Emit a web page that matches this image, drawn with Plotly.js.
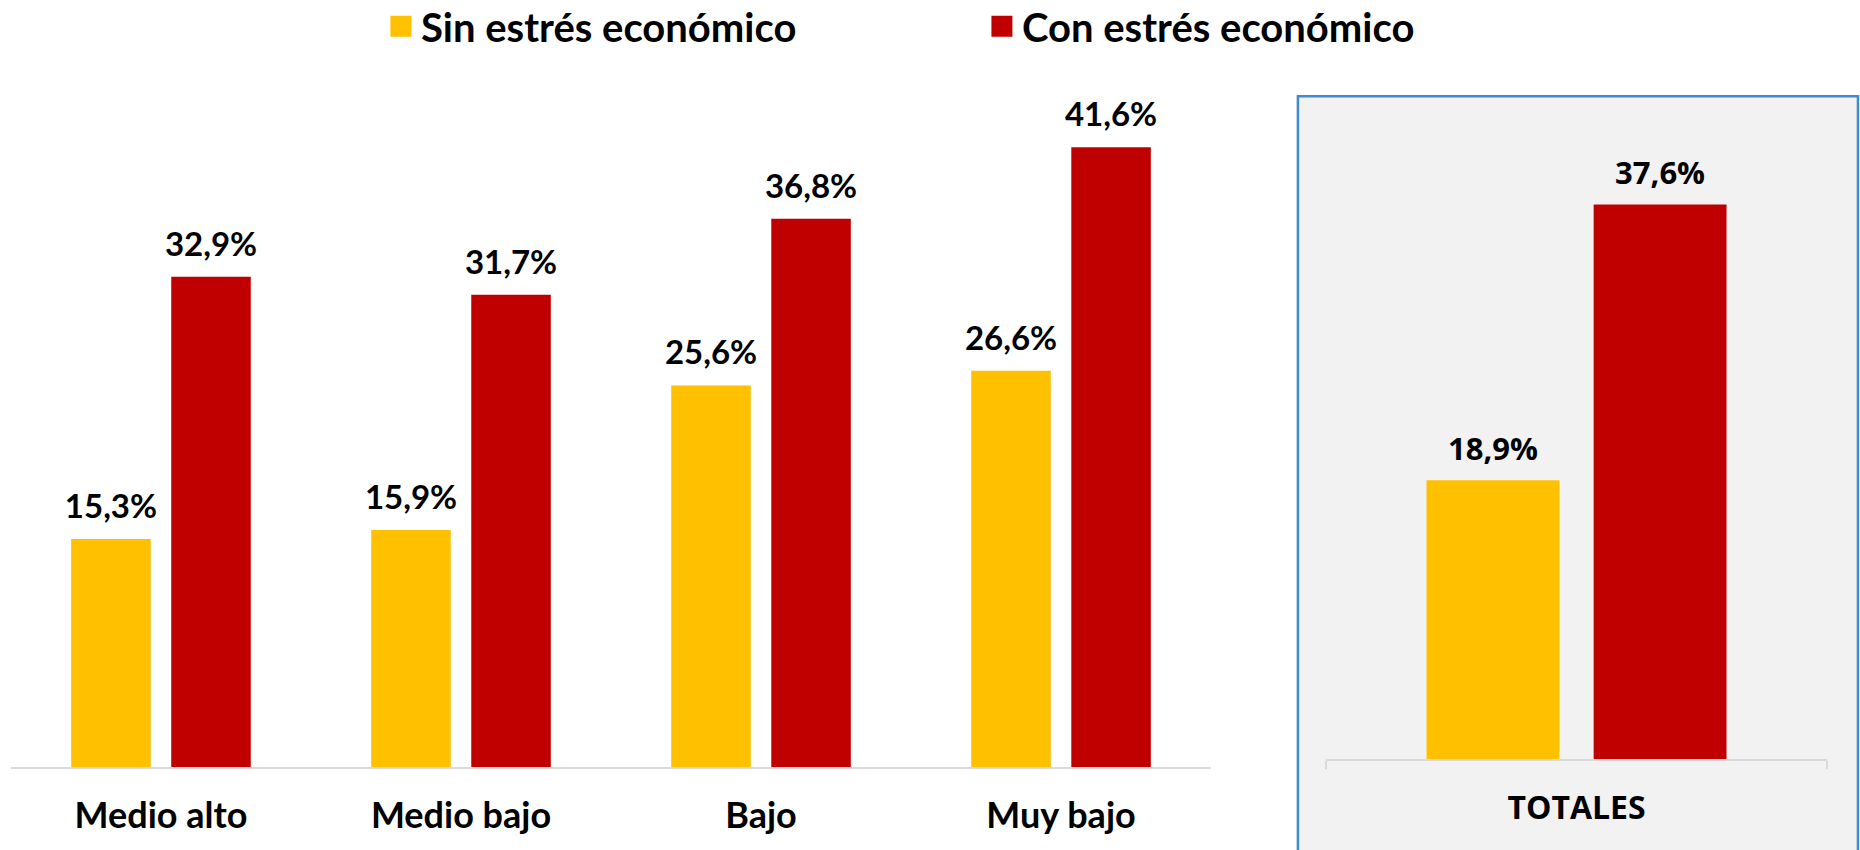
<!DOCTYPE html>
<html>
<head>
<meta charset="utf-8">
<script src="https://cdn.plot.ly/plotly-3.0.1.min.js"></script>
<style>html,body{margin:0;padding:0;background:#fff;}#chart{width:1860px;height:850px;}</style>
</head>
<body>
<div id="chart"></div>
<script>
// ---- data ----
var categories = ['Medio alto', 'Medio bajo', 'Bajo', 'Muy bajo'];
var sinEstres = [15.3, 15.9, 25.6, 26.6];
var conEstres = [32.9, 31.7, 36.8, 41.6];
var totalCategory = ['TOTALES'];
var totalSin = [18.9];
var totalCon = [37.6];
var seriesNames = ['Sin estrés económico', 'Con estrés económico'];

// ---- styles ----
var YELLOW = '#FFC000', RED = '#C00000';
var leftFont = 'Lato, "Liberation Sans", sans-serif';
var rightFont = '"Open Sans", "DejaVu Sans", sans-serif';

function barTrace(x, y, color, xa, ya) {
  return {type: 'bar', x: x, y: y, xaxis: xa, yaxis: ya, marker: {color: color},
    showlegend: false, hoverinfo: 'skip'};
}
function labelTrace(x, y, xa, ya, font, size) {
  return {type: 'scatter', mode: 'markers+text', x: x, y: y, xaxis: xa, yaxis: ya,
    marker: {size: 19, opacity: 0}, texttemplate: '%{y:.1f}%', textposition: 'top center',
    textfont: {family: font, size: size, color: '#000', weight: 'bold'},
    cliponaxis: false, showlegend: false, hoverinfo: 'skip'};
}
function legendTrace(name, color) {
  return {type: 'scatter', mode: 'markers', x: [null], y: [null], xaxis: 'x3', yaxis: 'y3',
    name: name, marker: {symbol: 'square', size: 16, color: color, line: {width: 5, color: color}},
    hoverinfo: 'skip'};
}

var data = [
  barTrace(categories, sinEstres, YELLOW, 'x', 'y'),
  barTrace(categories, conEstres, RED, 'x', 'y'),
  labelTrace(categories, sinEstres, 'x', 'y', leftFont, 33),
  labelTrace(categories, conEstres, 'x', 'y', leftFont, 33),
  barTrace(totalCategory, totalSin, YELLOW, 'x2', 'y2'),
  barTrace(totalCategory, totalCon, RED, 'x2', 'y2'),
  labelTrace(totalCategory, totalSin, 'x2', 'y2', rightFont, 31),
  labelTrace(totalCategory, totalCon, 'x2', 'y2', rightFont, 31),
  legendTrace(seriesNames[0], YELLOW),
  legendTrace(seriesNames[1], RED)
];

var layout = {
  width: 1860, height: 850, autosize: false,
  margin: {l: 0, r: 0, t: 0, b: 0, autoexpand: false},
  paper_bgcolor: '#FFFFFF', plot_bgcolor: 'rgba(0,0,0,0)',
  separators: ',.',
  barmode: 'group', bargap: 0.333, bargroupgap: 0.205,
  scattermode: 'group',
  showlegend: true,
  legend: {orientation: 'h', x: 0.2048, xanchor: 'left', y: 0.969, yanchor: 'middle',
    font: {family: leftFont, size: 40, color: '#000', weight: 'bold'},
    entrywidth: 556, bgcolor: 'rgba(0,0,0,0)'},
  xaxis: {domain: [0.0059, 0.6511], anchor: 'y', type: 'category',
    showline: true, linecolor: '#D9D9D9', linewidth: 2, showgrid: false, zeroline: false,
    ticks: '', ticklabelstandoff: 16,
    tickfont: {family: leftFont, size: 36, color: '#000', weight: 'bold'}},
  yaxis: {domain: [0.0976, 0.8865], anchor: 'x', range: [0, 45], visible: false, fixedrange: true},
  xaxis2: {domain: [0.7129, 0.9823], anchor: 'y2', type: 'category',
    showline: true, linecolor: '#D9D9D9', linewidth: 2, showgrid: false, zeroline: false,
    ticks: 'outside', tickson: 'boundaries', ticklen: 8, tickcolor: '#D9D9D9', tickwidth: 2,
    ticklabelstandoff: 20,
    tickfont: {family: rightFont, size: 32, color: '#000', weight: 'bold'}},
  yaxis2: {domain: [0.1071, 0.8879], anchor: 'x2', range: [0, 45], visible: false, fixedrange: true},
  xaxis3: {domain: [0, 0.01], anchor: 'y3', visible: false},
  yaxis3: {domain: [0.99, 1], anchor: 'x3', visible: false},
  shapes: [{type: 'rect', xref: 'paper', yref: 'paper', layer: 'below',
    x0: 0.6978, x1: 0.9989, y0: -0.02, y1: 0.8868,
    fillcolor: '#F2F2F2', line: {color: '#3D8BD0', width: 2.5}}]
};

Plotly.newPlot('chart', data, layout, {staticPlot: true});
</script>
</body>
</html>
